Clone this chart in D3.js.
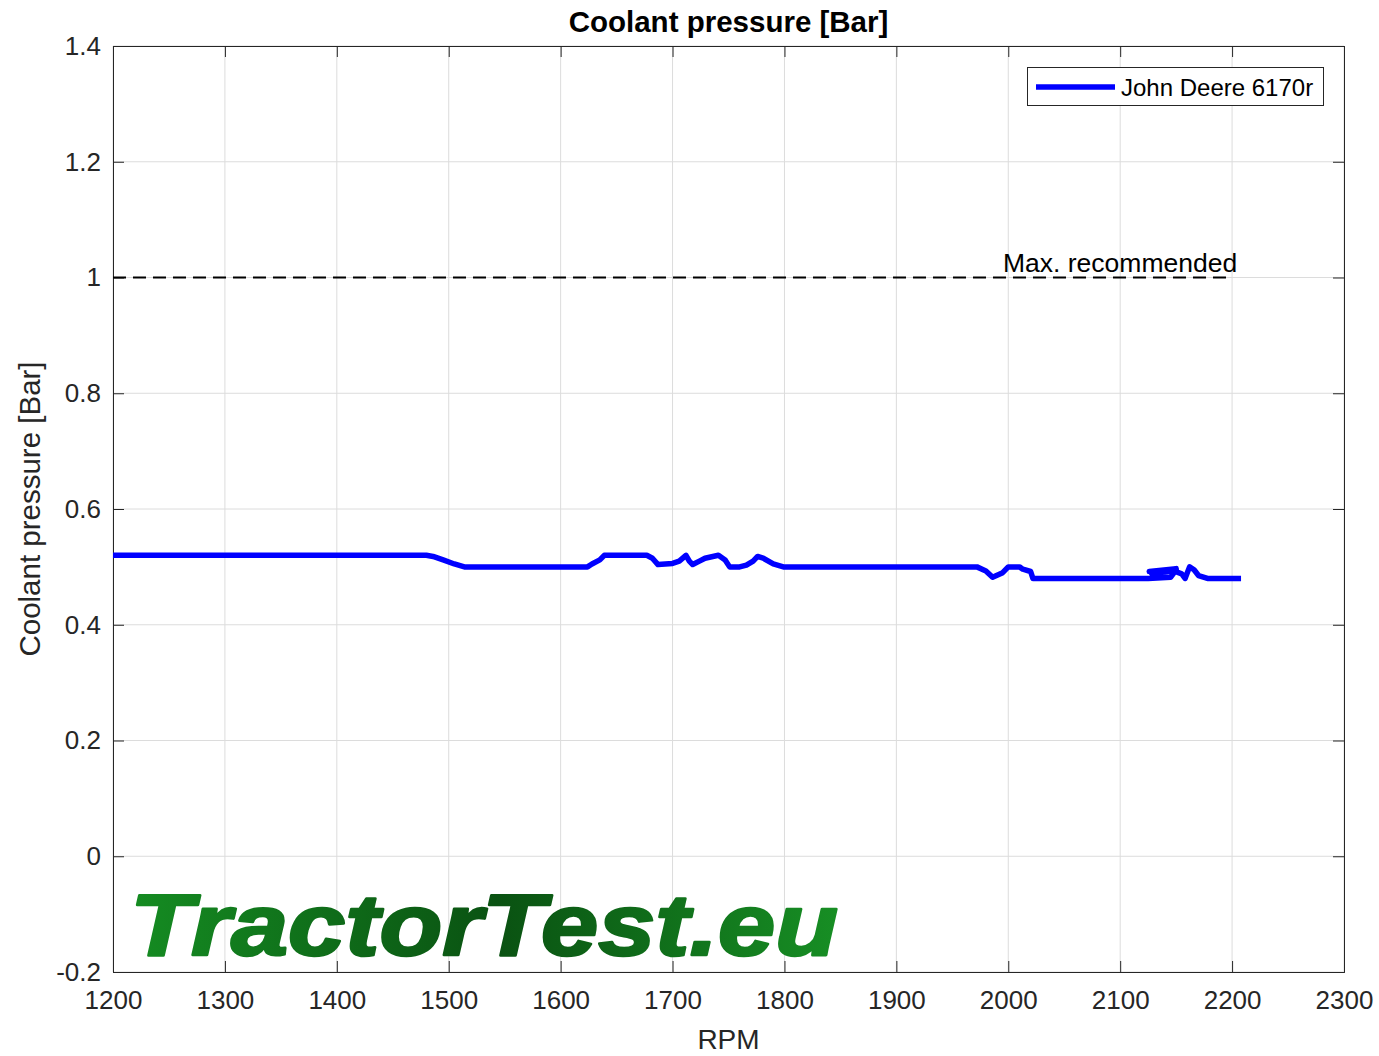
<!DOCTYPE html>
<html>
<head>
<meta charset="utf-8">
<script src="https://d3js.org/d3.v7.min.js"></script>
<style>
  body { margin: 0; background: #fff; font-family: "Liberation Sans", Arial, sans-serif; }
  .grid line { stroke: #dcdcdc; stroke-width: 1; }
  .tick text { font-size: 26px; fill: #262626; }
</style>
</head>
<body>
<svg id="chart" width="1379" height="1056"></svg>
<script>
// x ticks, y ticks
var xTicks = [1200, 1300, 1400, 1500, 1600, 1700, 1800, 1900, 2000, 2100, 2200, 2300];
var yTicks = [-0.2, 0, 0.2, 0.4, 0.6, 0.8, 1, 1.2, 1.4];

// John Deere 6170r, points in the order the trace was drawn
var rpm = [1200, 1300, 1400, 1480, 1486, 1495, 1505, 1514, 1560, 1624, 1628, 1635, 1639, 1660, 1677, 1682, 1687,
           1700, 1706, 1712, 1715, 1718, 1724, 1729, 1741, 1747, 1751, 1760, 1766, 1772, 1776, 1781, 1790, 1799,
           1850, 1900, 1972, 1980, 1986, 1995, 2000, 2010, 2013, 2020, 2022, 2026, 2050, 2100, 2125,
           2145, 2150, 2126, 2150, 2128, 2148, 2155, 2158, 2162, 2166, 2170, 2178, 2190, 2208];
var pressure = [0.52, 0.52, 0.52, 0.52, 0.518, 0.512, 0.505, 0.50, 0.50, 0.50, 0.505, 0.512, 0.52, 0.52, 0.52, 0.515, 0.504,
                0.506, 0.51, 0.52, 0.51, 0.504, 0.51, 0.515, 0.52, 0.512, 0.50, 0.50, 0.503, 0.51, 0.518, 0.515, 0.505, 0.50,
                0.50, 0.50, 0.50, 0.493, 0.482, 0.49, 0.50, 0.50, 0.496, 0.492, 0.48, 0.48, 0.48, 0.48, 0.48,
                0.482, 0.495, 0.492, 0.497, 0.489, 0.493, 0.488, 0.48, 0.50, 0.495, 0.485, 0.48, 0.48, 0.48];

var maxRec = 1;
var maxRecRange = [1200, 2200];

var svg = d3.select("#chart");
var mLeft = 113, mRight = 1344, mTop = 46, mBottom = 972;

var x = d3.scaleLinear().domain([1200, 2300]).range([mLeft, mRight]);
var y = d3.scaleLinear().domain([-0.2, 1.4]).range([mBottom, mTop]);

// grid
var grid = svg.append("g").attr("class", "grid");
grid.selectAll(".gx").data(xTicks).enter().append("line")
    .attr("x1", function (d) { return x(d); }).attr("x2", function (d) { return x(d); })
    .attr("y1", mTop).attr("y2", mBottom);
grid.selectAll(".gy").data(yTicks).enter().append("line")
    .attr("y1", function (d) { return y(d); }).attr("y2", function (d) { return y(d); })
    .attr("x1", mLeft).attr("x2", mRight);

// watermark
var defs = svg.append("defs");
var grad = defs.append("linearGradient").attr("id", "wm").attr("x1", "0%").attr("x2", "100%");
grad.append("stop").attr("offset", "0%").attr("stop-color", "#158c22");
grad.append("stop").attr("offset", "52%").attr("stop-color", "#0a5212");
grad.append("stop").attr("offset", "100%").attr("stop-color", "#178e24");
svg.append("text")
    .attr("x", 130).attr("y", 955)
    .attr("font-family", "Liberation Sans, Arial, sans-serif")
    .attr("font-weight", "bold").attr("font-style", "italic")
    .attr("font-size", 88)
    .attr("textLength", 708).attr("lengthAdjust", "spacingAndGlyphs")
    .attr("fill", "url(#wm)")
    .attr("stroke", "url(#wm)").attr("stroke-width", 2.5).attr("stroke-linejoin", "round")
    .text("TractorTest.eu");

// axes with inward ticks on all four sides
function fmt(d) { return String(+d.toFixed(1)); }
svg.append("g").attr("transform", "translate(0," + mBottom + ")")
    .call(d3.axisBottom(x).tickValues(xTicks).tickSize(-11).tickPadding(19).tickFormat(d3.format("d")));
svg.append("g").attr("transform", "translate(0," + mTop + ")")
    .call(d3.axisTop(x).tickValues(xTicks).tickSize(-11).tickFormat(""));
svg.append("g").attr("transform", "translate(" + mLeft + ",0)")
    .call(d3.axisLeft(y).tickValues(yTicks).tickSize(-11).tickPadding(12).tickFormat(fmt));
svg.append("g").attr("transform", "translate(" + mRight + ",0)")
    .call(d3.axisRight(y).tickValues(yTicks).tickSize(-11).tickFormat(""));
svg.selectAll(".domain").attr("stroke", "#262626");
svg.selectAll(".tick line").attr("stroke", "#262626");
svg.selectAll(".tick text").attr("font-family", "Liberation Sans, Arial, sans-serif");

// max recommended line
svg.append("line")
    .attr("x1", x(maxRecRange[0])).attr("x2", x(maxRecRange[1]))
    .attr("y1", y(maxRec)).attr("y2", y(maxRec))
    .attr("stroke", "#000").attr("stroke-width", 2).attr("stroke-dasharray", "13,7");
svg.append("text")
    .attr("x", 1003).attr("y", y(maxRec) - 6)
    .attr("font-size", 26.5).attr("fill", "#000")
    .text("Max. recommended");

// data line
var pts = rpm.map(function (r, i) { return [r, pressure[i]]; });
svg.append("path")
    .datum(pts)
    .attr("fill", "none").attr("stroke", "#0000ff").attr("stroke-width", 5.5)
    .attr("stroke-linejoin", "round")
    .attr("d", d3.line().x(function (d) { return x(d[0]); }).y(function (d) { return y(d[1]); }));

// legend
var lg = svg.append("g");
lg.append("rect").attr("x", 1027.5).attr("y", 67.5).attr("width", 296).attr("height", 38)
    .attr("fill", "#fff").attr("stroke", "#262626").attr("stroke-width", 1);
lg.append("line").attr("x1", 1036).attr("x2", 1115).attr("y1", 87).attr("y2", 87)
    .attr("stroke", "#0000ff").attr("stroke-width", 5.5);
lg.append("text").attr("x", 1121).attr("y", 96).attr("font-size", 24).attr("fill", "#000")
    .text("John Deere 6170r");

// titles
svg.append("text").attr("x", (mLeft + mRight) / 2).attr("y", 32)
    .attr("text-anchor", "middle").attr("font-size", 29.5).attr("font-weight", "bold").attr("fill", "#000")
    .text("Coolant pressure [Bar]");
svg.append("text").attr("x", (mLeft + mRight) / 2).attr("y", 1049)
    .attr("text-anchor", "middle").attr("font-size", 28).attr("fill", "#262626")
    .text("RPM");
svg.append("text")
    .attr("transform", "translate(40," + (mTop + mBottom) / 2 + ") rotate(-90)")
    .attr("text-anchor", "middle").attr("font-size", 29.5).attr("fill", "#262626")
    .text("Coolant pressure [Bar]");
</script>
</body>
</html>
